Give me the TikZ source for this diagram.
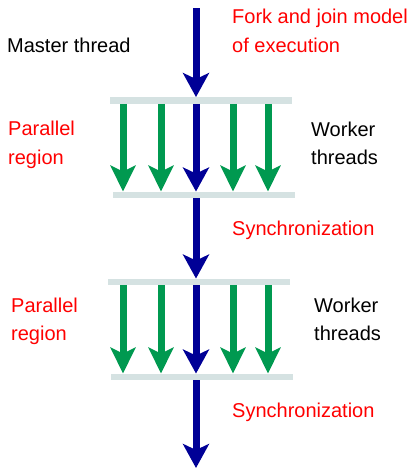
\documentclass[tikz,border=0pt]{standalone}
\usepackage{fontspec}
\setmainfont{Liberation Sans}
\usetikzlibrary{arrows.meta,positioning}

\definecolor{masterblue}{RGB}{0,0,150}
\definecolor{workergreen}{RGB}{0,153,80}
\definecolor{barcolor}{RGB}{213,226,226}

\tikzset{
    bar/.style={fill=barcolor, draw=none, minimum width=182pt, minimum height=6.5pt, inner sep=0pt},
    master/.style={masterblue, line width=7pt, -{Stealth[length=24pt, width=26pt, inset=6pt]}},
    worker/.style={workergreen, line width=7pt, -{Stealth[length=26pt, width=25pt, inset=6pt]}},
    lbl/.style={inner sep=0pt, anchor=base west, font=\fontsize{20}{24}\selectfont},
    redlbl/.style={lbl, red}
}

\begin{document}
\begin{tikzpicture}[x=1pt, y=-1pt]
    \useasboundingbox (0, 0) rectangle (412, 469);

    % sync bars
    \node[bar] (bar1) at (201, 100.5) {};
    \node[bar] (bar2) at (204, 195) {};
    \node[bar] (bar3) at (199, 282) {};
    \node[bar] (bar4) at (201.5, 377) {};

    % columns of the threads
    \coordinate (master) at (196, 8);
    \coordinate (w1) at (123, 0);
    \coordinate (w2) at (161, 0);
    \coordinate (w3) at (233, 0);
    \coordinate (w4) at (268, 0);
    \coordinate (end) at (196, 468);

    % master thread
    \draw[master] (master) -- (bar1.north -| master);
    \draw[master] (bar1.south -| master) -- (bar2.north -| master);
    \draw[master] (bar2.south -| master) -- (bar3.north -| master);
    \draw[master] (bar3.south -| master) -- (bar4.north -| master);
    \draw[master] (bar4.south -| master) -- (end);

    % worker threads
    \foreach \w in {w1, w2, w3, w4} {
        \draw[worker] (bar1.south -| \w) -- (bar2.north -| \w);
        \draw[worker] (bar3.south -| \w) -- (bar4.north -| \w);
    }

    % labels
    \node[lbl] (mt) at (7, 52) {Master thread};
    \node[redlbl] (fork) at (232, 23) {Fork and join model};
    \node[redlbl] (exec) at (232, 52) {of execution};

    \node[redlbl] (par1) at (8, 135) {Parallel};
    \node[redlbl] (reg1) at (8, 164) {region};
    \node[lbl] (wk1) at (311, 136) {Worker};
    \node[lbl] (th1) at (311, 164) {threads};
    \node[redlbl] (sync1) at (232, 235) {Synchronization};

    \node[redlbl] (par2) at (11, 312) {Parallel};
    \node[redlbl] (reg2) at (11, 340) {region};
    \node[lbl] (wk2) at (314, 312) {Worker};
    \node[lbl] (th2) at (314, 340) {threads};
    \node[redlbl] (sync2) at (232, 417) {Synchronization};
\end{tikzpicture}
\end{document}
